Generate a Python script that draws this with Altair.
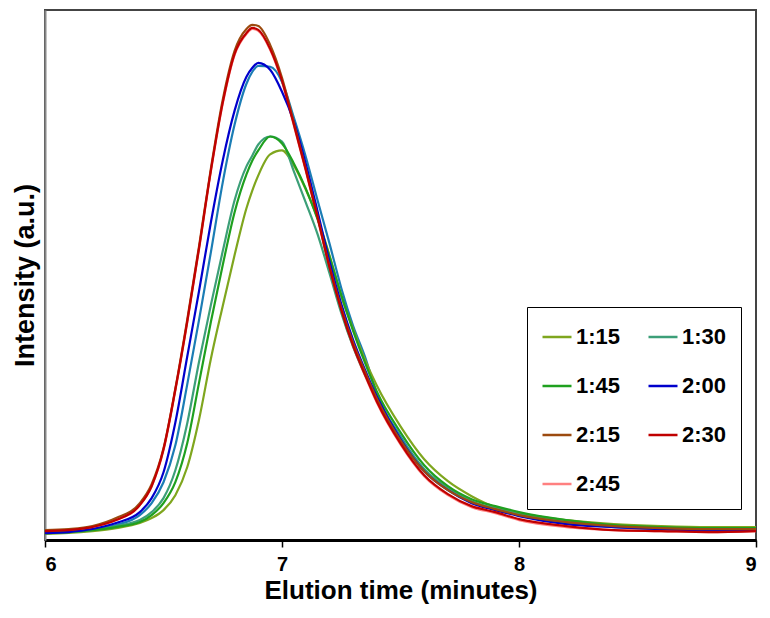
import altair as alt
import pandas as pd

# Elution time grid (minutes)
times = [6.0, 6.1, 6.2, 6.3, 6.4, 6.45, 6.5, 6.55, 6.6, 6.65, 6.7, 6.75, 6.8, 6.85, 6.875,
         6.9, 6.95, 7.0, 7.05, 7.1, 7.15, 7.2, 7.25, 7.3, 7.35, 7.4, 7.5, 7.6, 7.7, 7.8,
         7.9, 8.0, 8.2, 8.4, 8.6, 8.8, 9.0]

# Intensity (a.u.)
s_115 = [6, 7, 9, 12, 17, 22, 30, 45, 73, 121, 182, 235, 286, 333, 351, 366, 387, 391, 376, 352,
         323, 286, 245, 212, 181, 155, 114, 81, 59, 44, 33, 27, 20, 16, 14, 13, 13]
s_130 = [7, 8, 10, 14, 20, 28, 42, 70, 117, 179, 236, 290, 341, 375, 386, 397, 405, 400, 370, 339,
         307, 268, 228, 194, 166, 142, 102, 71, 52, 39, 32, 26, 18, 14, 12, 11, 11]
s_145 = [7, 8, 10, 13, 18, 25, 37, 58, 97, 158, 219, 276, 329, 367, 381, 391, 405, 398, 378, 353,
         322, 285, 246, 210, 178, 149, 108, 75, 54, 41, 34, 28, 20, 15, 13, 12, 12]
s_200 = [7, 8, 11, 17, 28, 42, 68, 118, 184, 250, 319, 381, 431, 465, 474, 479, 472, 450, 420, 378,
         330, 280, 237, 201, 171, 144, 101, 69, 50, 37, 30, 24, 16, 13, 11, 10, 10]
s_215 = [10, 11, 14, 22, 37, 56, 92, 152, 221, 295, 373, 442, 491, 513, 517, 516, 497, 464, 419, 373,
         325, 275, 233, 198, 169, 142, 100, 69, 50, 38, 31, 25, 18, 14, 12, 11, 11]
s_230 = [9, 10, 13, 20, 35, 54, 91, 151, 219, 293, 371, 439, 488, 509, 514, 512, 493, 461, 417, 372,
         324, 274, 231, 195, 166, 139, 97, 65, 46, 34, 28, 21, 14, 10, 9, 8, 9]
s_245 = [9, 10, 13, 20, 35, 54, 90, 150, 218, 292, 370, 438, 487, 508, 513, 511, 492, 460, 416, 371,
         323, 273, 230, 194, 165, 138, 96, 64, 45, 33, 27, 20, 13, 10, 9, 8, 9]
# extra unlabelled trace (steel blue)
s_extra = [7, 8, 10, 15, 25, 37, 58, 95, 156, 221, 289, 359, 417, 458, 470, 476, 475, 460, 424, 385,
           341, 298, 253, 215, 184, 147, 104, 71, 51, 38, 31, 25, 17, 13, 11, 10, 11]

labels = ["1:15", "1:30", "1:45", "2:00", "2:15", "2:30", "2:45"]
colors = ["#7FA61E", "#3C9F78", "#1FA01F", "#0000CC", "#9C4A0F", "#C00000", "#FF8080"]
series = [s_115, s_130, s_145, s_200, s_215, s_230, s_245]

rows = []
for lab, vals in zip(labels, series):
    for t, v in zip(times, vals):
        rows.append({"time": t, "intensity": v, "series": lab})
df = pd.DataFrame(rows)
df_extra = pd.DataFrame({"time": times, "intensity": s_extra})

FONT = "Liberation Sans"

x_enc = alt.X("time:Q",
              scale=alt.Scale(domain=[6, 9], nice=False),
              axis=alt.Axis(values=[6, 7, 8, 9], title="Elution time (minutes)",
                            labelFont=FONT, labelFontSize=20, labelFontWeight="bold",
                            labelColor="black", labelPadding=7,
                            tickSize=7, tickWidth=1.5, tickColor="black",
                            domainColor="black", domainWidth=3, grid=False,
                            titleFont=FONT, titleFontSize=26, titleFontWeight="bold",
                            titleColor="black", titlePadding=3))
y_enc = alt.Y("intensity:Q",
              scale=alt.Scale(domain=[0, 532], nice=False),
              axis=alt.Axis(title="Intensity (a.u.)", labels=False, ticks=False, grid=False,
                            domainColor="#888888", domainWidth=2,
                            titleFont=FONT, titleFontSize=27, titleFontWeight="bold",
                            titleColor="black", titlePadding=6))

color_enc = alt.Color("series:N",
                      scale=alt.Scale(domain=labels, range=colors),
                      legend=alt.Legend(title=None, orient="none", legendX=482, legendY=297,
                                        columns=2, direction="horizontal",
                                        symbolType="stroke", symbolSize=841,
                                        symbolStrokeWidth=2.5, labelFont=FONT,
                                        labelFontSize=22, labelFontWeight="bold",
                                        labelColor="black", labelOffset=3,
                                        rowPadding=22, columnPadding=22, padding=14,
                                        strokeColor="black", fillColor="white"))

base = alt.Chart(df)
pink = base.transform_filter(alt.datum.series == "2:45").mark_line(
    strokeWidth=2.2, interpolate="monotone").encode(x=x_enc, y=y_enc, color=color_enc)
extra = alt.Chart(df_extra).mark_line(
    strokeWidth=2.2, interpolate="monotone", color="#1B7DB5").encode(x=x_enc, y=y_enc)
main = base.transform_filter(alt.datum.series != "2:45").mark_line(
    strokeWidth=2.2, interpolate="monotone").encode(x=x_enc, y=y_enc, color=color_enc)

chart = alt.layer(pink, extra, main).properties(
    width=711, height=530,
    background="white",
    padding={"left": 37, "top": 2, "right": 6, "bottom": 66},
    autosize=alt.AutoSizeParams(type="none"),
).configure_view(stroke="#444444", strokeWidth=2)

chart.save("out.html", embed_options={"renderer": "svg", "actions": False})
